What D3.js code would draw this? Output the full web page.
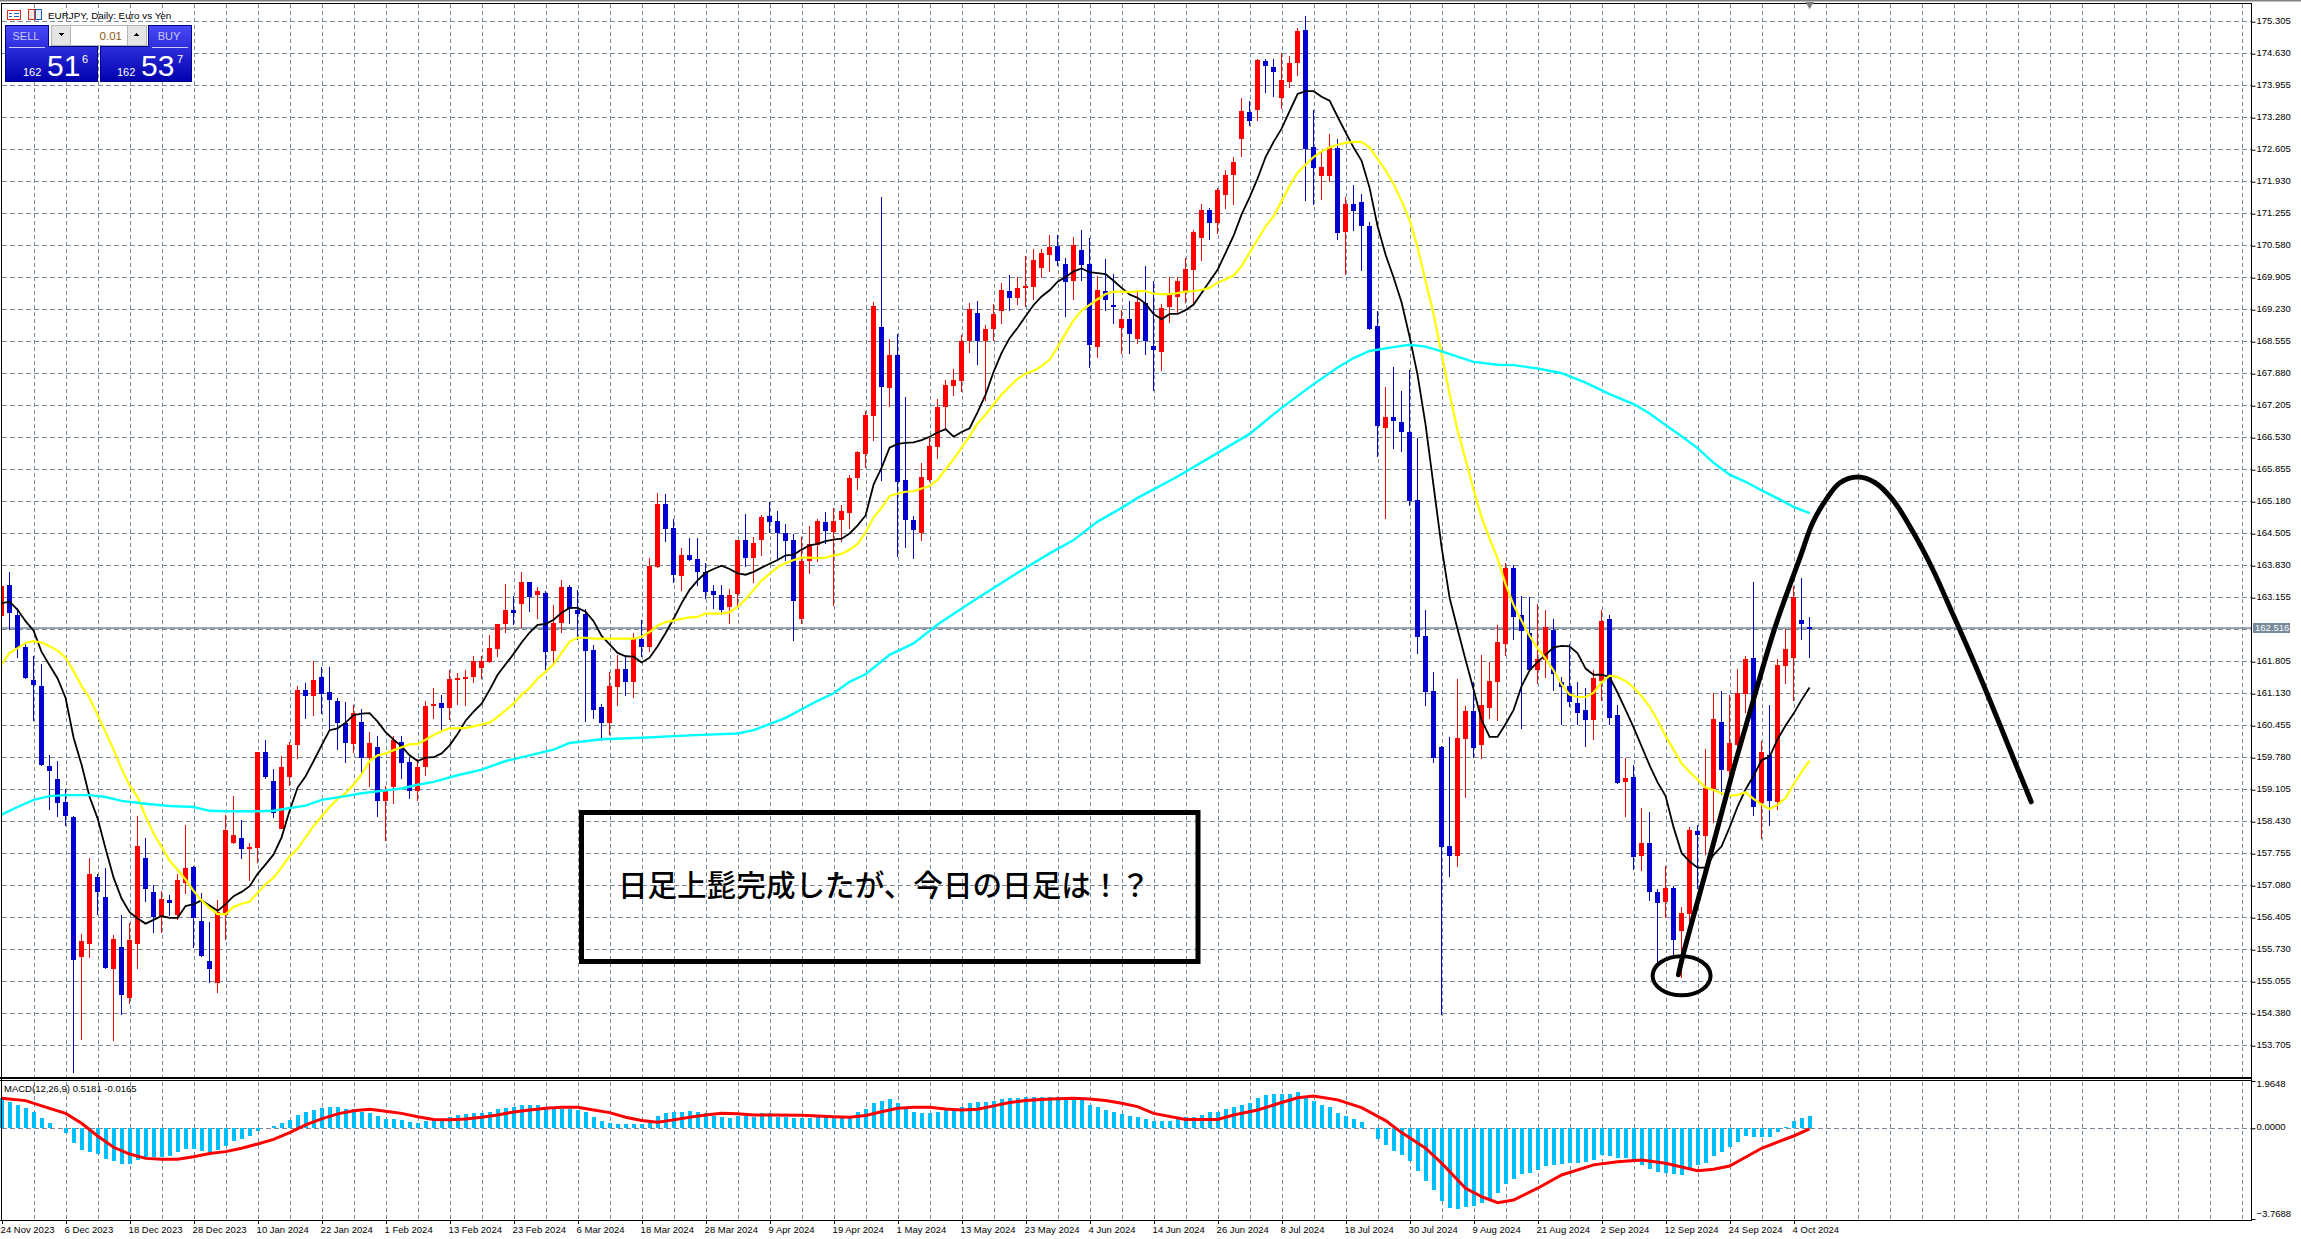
<!DOCTYPE html>
<html>
<head>
<meta charset="utf-8">
<script src="https://cdn.jsdelivr.net/npm/d3@7"></script>
<style>
  html, body { margin: 0; padding: 0; background: #fff; }
  svg { display: block; }
</style>
</head>
<body>
<script>
// EURJPY daily candles, one value per bar (227 bars)
var opens = [
  162.76,163.42,162.79,162.12,161.42,161.30,159.61,159.33,158.85,158.53,
  155.58,155.84,157.27,156.85,155.33,155.79,154.72,155.84,157.67,156.95,
  156.44,156.77,156.46,157.13,157.47,156.34,155.50,155.03,156.46,157.98,
  158.09,157.87,157.88,159.91,159.29,158.28,159.38,160.04,161.21,161.08,
  161.49,161.17,160.98,160.52,160.07,160.54,159.78,160.01,158.87,159.17,
  160.12,159.68,159.07,159.58,160.87,160.94,160.82,161.43,161.45,161.49,
  161.67,161.79,162.08,162.59,162.90,163.03,163.49,163.21,163.26,162.04,
  162.63,163.38,162.90,162.82,162.05,160.84,160.52,161.28,161.65,161.38,
  162.29,162.11,163.80,165.13,164.62,163.62,164.06,163.98,163.69,163.30,
  163.21,162.96,163.24,164.38,163.99,164.38,164.88,164.77,164.51,164.38,
  162.71,163.92,164.26,164.76,164.55,164.80,164.94,165.68,166.19,166.98,
  168.86,167.57,168.27,165.64,164.80,164.51,165.64,166.34,167.18,167.62,
  167.73,168.56,169.16,168.56,168.82,169.21,169.63,169.48,169.69,169.71,
  170.11,170.39,170.57,170.20,169.84,170.49,170.20,168.44,169.62,169.32,
  168.84,169.03,168.61,169.38,168.46,168.33,169.29,169.50,169.58,170.07,
  170.74,171.33,171.05,171.64,172.07,172.84,173.39,173.44,174.47,174.34,
  173.69,174.03,174.43,175.13,172.66,172.04,172.06,172.64,170.87,171.46,
  171.50,170.99,168.88,166.73,166.96,166.86,166.65,165.21,162.35,161.18,
  160.01,157.91,157.71,160.18,160.76,160.05,160.83,161.38,162.17,163.79,
  162.80,162.41,161.64,161.85,162.48,161.38,161.29,160.94,160.79,160.57,
  161.40,162.70,160.68,159.27,159.38,157.70,157.98,156.95,156.74,157.03,
  156.13,156.48,158.23,158.13,159.13,160.53,159.51,160.04,161.13,161.88,
  158.82,159.83,158.84,161.72,161.88,162.69,162.53
];
var highs = [
  163.75,163.70,162.94,162.23,161.93,161.75,159.83,159.70,159.11,158.54,
  156.06,157.66,157.33,157.45,156.04,156.47,156.29,158.55,158.09,157.09,
  156.97,156.89,157.33,158.36,157.49,156.93,156.32,156.77,158.58,158.98,
  158.46,157.98,159.91,160.16,159.55,159.82,160.12,161.29,161.36,161.83,
  161.69,161.69,161.04,160.96,160.90,160.80,160.32,160.24,159.19,160.24,
  160.24,159.79,159.75,160.98,161.25,161.10,161.62,161.57,161.63,161.93,
  161.93,162.36,162.60,163.45,163.20,163.70,163.49,163.38,163.30,163.00,
  163.53,163.42,163.32,162.92,162.15,160.91,161.58,161.95,161.95,162.42,
  162.68,164.00,165.37,165.35,164.81,164.21,164.42,164.42,163.88,163.42,
  163.42,163.34,164.38,164.93,164.43,164.89,165.18,164.99,164.72,164.49,
  164.43,164.67,164.81,164.96,165.05,165.11,165.74,166.24,167.10,169.40,
  171.61,168.61,168.71,167.39,164.88,165.99,166.52,167.34,167.75,167.98,
  168.69,169.37,169.41,168.90,169.36,169.79,169.96,169.92,170.36,170.51,
  170.50,170.81,170.81,170.32,170.76,170.91,170.75,169.94,170.29,169.98,
  169.22,169.42,169.61,170.15,169.83,169.34,169.91,169.91,170.33,170.91,
  171.46,171.38,171.80,172.17,172.45,173.69,173.63,174.52,174.51,174.51,
  174.64,174.59,175.17,175.43,173.44,172.57,172.93,172.83,171.60,171.87,
  171.67,171.09,169.20,167.60,168.02,167.51,167.96,166.53,162.89,161.58,
  160.02,160.22,161.44,160.87,161.38,161.95,161.80,162.57,163.89,163.85,
  163.20,163.18,163.02,162.89,162.70,161.48,162.17,161.38,161.26,161.62,
  162.89,162.78,160.89,159.77,159.62,158.72,158.63,157.01,157.49,157.07,
  156.64,158.31,158.35,159.96,161.15,161.18,161.11,161.65,161.93,163.49,
  160.13,160.89,161.86,162.49,163.40,163.57,162.75
];
var lows = [
  162.70,162.48,161.89,161.45,160.56,159.61,158.68,158.53,158.34,153.12,
  153.83,155.56,156.47,155.33,153.81,154.35,154.58,155.32,156.74,156.08,
  156.08,156.44,156.36,156.91,155.77,155.58,155.03,154.82,155.94,157.96,
  157.65,157.17,157.55,159.34,158.50,158.28,159.19,159.75,160.60,160.66,
  160.70,160.36,159.95,159.66,159.87,159.43,159.17,158.52,158.03,158.81,
  159.33,158.91,158.87,159.39,160.60,160.36,160.58,160.90,160.88,161.35,
  161.45,161.77,161.91,162.40,162.58,162.52,162.86,162.71,161.62,161.71,
  162.42,162.59,162.27,160.54,160.60,160.13,160.25,160.88,161.08,161.04,
  161.91,162.01,163.79,164.34,163.46,163.30,163.92,163.40,163.12,162.92,
  162.78,162.59,162.99,163.80,163.46,164.03,164.51,163.96,163.92,162.25,
  162.60,163.66,163.90,164.29,162.99,164.34,164.61,165.42,165.89,166.47,
  165.62,167.17,164.02,164.21,163.98,164.35,165.60,166.08,166.73,167.41,
  167.50,168.31,168.06,167.31,168.58,168.92,169.20,169.32,169.29,169.44,
  169.90,170.02,170.15,169.07,169.44,169.84,168.00,168.22,169.20,168.92,
  168.29,168.29,168.51,168.27,167.51,167.93,168.95,169.14,169.38,169.38,
  170.25,170.69,170.83,171.36,171.43,172.46,173.11,173.22,173.80,173.72,
  173.47,173.90,174.17,171.52,171.44,171.54,171.92,170.70,169.97,170.88,
  170.04,168.80,166.12,164.82,166.30,166.22,165.09,161.96,160.87,159.67,
  154.36,157.26,157.47,158.93,159.77,159.75,160.60,160.55,161.93,162.26,
  160.39,161.58,161.34,161.46,161.18,160.47,160.84,160.46,160.01,160.16,
  160.98,160.47,159.22,158.53,157.42,157.38,156.76,155.44,156.40,155.55,
  155.13,156.28,157.01,157.73,158.41,159.00,159.38,159.98,160.73,158.55,
  158.07,158.34,158.68,161.34,160.97,162.27,161.88
];
var closes = [
  163.41,162.84,162.10,161.46,161.32,159.63,159.49,158.83,158.54,155.52,
  155.92,157.33,156.95,155.35,155.96,154.78,155.94,157.92,157.02,156.43,
  156.81,156.72,157.21,157.45,156.40,155.60,155.33,156.52,158.26,158.14,
  157.86,157.90,159.91,159.38,158.62,159.59,160.05,161.21,161.08,161.41,
  161.13,161.00,160.52,160.10,160.72,159.78,160.08,158.87,159.09,160.15,
  159.66,159.07,159.59,160.87,160.91,160.83,161.45,161.47,161.49,161.81,
  161.83,162.09,162.59,162.90,162.84,163.49,163.16,163.30,162.02,162.62,
  163.38,162.92,162.82,162.04,160.78,160.52,161.29,161.65,161.38,162.29,
  162.11,163.83,165.13,164.61,163.63,164.05,163.96,163.69,163.28,163.22,
  162.90,163.21,164.38,163.99,164.31,164.86,164.76,164.51,164.35,163.09,
  163.92,164.29,164.77,164.56,164.77,164.99,165.68,166.22,167.01,169.31,
  167.59,168.27,165.60,164.80,164.59,165.70,166.35,167.18,167.65,167.75,
  168.56,169.24,168.56,168.82,169.14,169.65,169.48,169.69,169.72,170.28,
  170.43,170.56,170.26,169.82,170.60,170.17,168.48,169.65,169.43,169.31,
  169.03,168.71,169.39,168.57,168.38,169.26,169.53,169.84,170.08,170.87,
  171.33,171.05,171.75,172.07,172.34,173.42,173.21,174.49,174.37,174.24,
  174.07,174.43,175.10,172.63,172.22,172.24,172.66,170.84,171.47,171.31,
  170.99,168.83,166.78,166.96,166.88,166.65,165.19,162.33,161.16,159.78,
  157.90,157.71,160.20,160.76,159.99,160.89,161.39,162.22,163.79,162.75,
  162.46,161.62,161.87,162.54,161.55,161.27,160.96,160.73,160.57,161.46,
  162.67,160.61,159.24,159.35,157.69,157.98,156.95,156.72,157.03,155.93,
  156.51,158.26,158.15,159.15,160.60,159.52,160.09,161.15,161.86,158.73,
  159.90,158.87,161.74,162.07,163.17,162.60,162.51
];

// moving averages, one value per bar
var maBlack = [
  163.04,163.07,162.90,162.66,162.46,162.01,161.73,161.45,161.04,160.20,
  159.63,158.95,158.50,157.86,157.25,156.81,156.52,156.39,156.28,156.36,
  156.44,156.40,156.40,156.65,156.69,156.77,156.66,156.55,156.69,156.86,
  156.95,157.07,157.33,157.53,157.74,158.10,158.66,159.15,159.39,159.71,
  160.04,160.36,160.40,160.52,160.68,160.71,160.72,160.54,160.32,160.16,
  160.02,159.83,159.71,159.78,159.79,159.87,160.04,160.28,160.56,160.75,
  160.92,161.21,161.53,161.75,161.97,162.21,162.42,162.58,162.60,162.69,
  162.84,162.94,162.94,162.86,162.66,162.35,162.17,161.99,161.92,161.91,
  161.79,161.89,162.13,162.41,162.71,163.04,163.32,163.52,163.68,163.76,
  163.83,163.76,163.67,163.64,163.70,163.79,163.87,163.95,164.05,164.06,
  164.17,164.26,164.29,164.35,164.38,164.40,164.51,164.68,164.89,165.54,
  165.90,166.32,166.40,166.42,166.43,166.48,166.55,166.64,166.71,166.55,
  166.65,166.73,167.07,167.44,167.92,168.32,168.63,168.85,169.09,169.33,
  169.51,169.64,169.82,169.92,170.04,170.10,170.02,170.00,169.98,169.84,
  169.69,169.55,169.48,169.36,169.14,169.03,169.14,169.14,169.22,169.34,
  169.58,169.83,170.07,170.43,170.79,171.24,171.60,172.00,172.45,172.77,
  173.05,173.42,173.78,173.84,173.84,173.72,173.64,173.30,172.97,172.65,
  172.37,171.80,170.99,170.39,169.91,169.38,168.66,167.85,166.80,165.51,
  164.22,163.15,162.49,161.84,161.22,160.57,160.22,160.22,160.49,160.79,
  161.29,161.62,161.80,161.95,162.11,162.14,162.13,161.98,161.66,161.53,
  161.53,161.48,161.15,160.79,160.42,160.02,159.62,159.26,158.97,158.31,
  157.77,157.59,157.46,157.46,157.73,157.91,158.31,158.75,159.11,159.40,
  159.73,159.80,160.17,160.46,160.71,161.00,161.26
];
var maYellow = [
  161.75,161.99,162.09,162.20,162.24,162.21,162.13,162.04,161.89,161.61,
  161.29,161.04,160.68,160.32,159.95,159.55,159.19,158.95,158.54,158.18,
  157.90,157.61,157.41,157.21,156.97,156.77,156.61,156.48,156.48,156.63,
  156.70,156.74,156.93,157.11,157.25,157.47,157.70,157.86,158.10,158.34,
  158.54,158.74,158.91,159.03,159.21,159.43,159.71,159.83,159.87,159.94,
  160.00,160.06,160.07,160.16,160.26,160.34,160.40,160.40,160.41,160.44,
  160.48,160.52,160.64,160.78,160.92,161.11,161.25,161.45,161.59,161.75,
  161.99,162.23,162.31,162.31,162.29,162.29,162.29,162.29,162.29,162.29,
  162.33,162.43,162.57,162.64,162.67,162.71,162.74,162.75,162.82,162.82,
  162.82,162.85,162.96,163.12,163.32,163.52,163.66,163.80,163.88,163.95,
  164.00,164.00,163.99,164.00,164.05,164.08,164.17,164.29,164.53,164.85,
  165.05,165.30,165.35,165.39,165.40,165.46,165.51,165.64,165.86,166.08,
  166.32,166.56,166.83,167.02,167.23,167.44,167.61,167.77,167.88,167.94,
  168.04,168.18,168.44,168.73,169.01,169.21,169.33,169.45,169.56,169.61,
  169.61,169.60,169.62,169.62,169.57,169.56,169.56,169.58,169.61,169.62,
  169.65,169.69,169.80,169.87,169.95,170.15,170.43,170.71,170.99,171.20,
  171.52,171.84,172.12,172.29,172.45,172.57,172.65,172.71,172.75,172.77,
  172.77,172.65,172.41,172.17,171.88,171.52,171.12,170.55,169.83,169.14,
  168.29,167.45,166.68,166.07,165.43,164.85,164.40,163.98,163.44,163.00,
  162.67,162.35,162.09,161.87,161.62,161.33,161.11,161.06,161.06,161.15,
  161.37,161.51,161.48,161.40,161.26,161.08,160.86,160.57,160.24,159.95,
  159.66,159.48,159.32,159.15,159.10,159.03,158.98,158.99,159.05,158.91,
  158.79,158.70,158.79,158.93,159.22,159.48,159.72
];
// slow average, read at the bars listed in maCyanBars
var maCyanBars = [
  0,2,4,6,8,11,13,15,18,21,24,26,28,32,34,36,38,40,43,45,47,50,52,54,57,60,63,66,69,71,
  75,80,86,92,94,98,102,104,106,108,111,114,117,121,124,127,131,134,137,140,142,147,151,
  156,160,164,167,169,171,174,176,178,180,182,184,187,189,192,195,198,201,204,206,208,210,
  212,214,216,218,220,222,224,226
];
var maCyan = [
  158.58,158.74,158.89,158.97,158.99,158.99,158.95,158.87,158.81,158.76,158.74,158.66,158.65,158.65,158.66,
  158.72,158.77,158.89,158.97,159.03,159.07,159.13,159.21,159.27,159.41,159.53,159.71,159.83,159.95,160.09,
  160.17,160.20,160.25,160.29,160.36,160.62,160.98,161.14,161.38,161.54,161.95,162.19,162.59,163.04,163.36,
  163.68,164.09,164.37,164.76,165.05,165.26,165.71,166.11,166.61,167.16,167.66,168.01,168.21,168.36,168.44,
  168.49,168.45,168.35,168.24,168.13,168.07,168.06,167.99,167.89,167.69,167.45,167.24,167.04,166.80,166.56,
  166.31,166.00,165.75,165.60,165.42,165.25,165.07,164.94
];

// MACD panel
var macdHist = [
  1.27,1.11,.97,.86,.69,.44,.24,.01,-.21,-.62,
  -.90,-1.00,-1.08,-1.29,-1.37,-1.48,-1.48,-1.32,-1.18,-1.20,
  -1.18,-1.14,-.97,-.87,-.87,-.93,-.97,-.90,-.72,-.53,
  -.44,-.32,-.11,.01,.11,.21,.35,.55,.66,.76,
  .86,.89,.89,.80,.79,.69,.65,.51,.39,.39,
  .35,.28,.24,.30,.35,.37,.48,.55,.60,.62,
  .62,.69,.79,.86,.90,.96,.97,.97,.90,.83,
  .80,.79,.76,.69,.48,.30,.21,.18,.17,.19,
  .19,.21,.51,.62,.68,.68,.72,.69,.62,.53,
  .47,.43,.51,.51,.48,.62,.62,.48,.46,.43,
  .42,.44,.46,.46,.48,.46,.48,.69,.80,1.07,
  1.14,1.22,1.07,.86,.69,.64,.65,.69,.79,.76,
  .90,1.07,1.09,1.09,1.15,1.20,1.25,1.27,1.29,1.29,
  1.29,1.29,1.29,1.29,1.29,1.18,.97,.87,.76,.69,
  .60,.51,.46,.39,.32,.30,.30,.37,.48,.48,
  .55,.69,.69,.80,.90,.97,1.07,1.27,1.37,1.43,
  1.43,1.43,1.51,1.34,1.15,.97,.90,.65,.51,.39,
  .26,.01,-.46,-.69,-.93,-1.11,-1.36,-1.77,-2.19,-2.56,
  -3.02,-3.32,-3.35,-3.27,-3.21,-3.12,-2.98,-2.70,-2.31,-2.11,
  -1.91,-1.84,-1.73,-1.57,-1.52,-1.48,-1.45,-1.43,-1.39,-1.32,
  -1.11,-1.15,-1.22,-1.22,-1.39,-1.52,-1.70,-1.80,-1.84,-1.91,
  -1.94,-1.66,-1.52,-1.45,-1.15,-.97,-.79,-.55,-.32,-.35,
  -.37,-.35,-.17,.04,.29,.42,.51
];
var signalBars = [
  0,3,5,8,10,12,14,16,18,20,22,24,26,28,30,32,34,36,38,40,42,44,46,48,50,52,54,56,58,60,
  62,64,66,68,70,72,74,76,78,80,82,84,86,88,90,92,94,96,100,102,104,106,108,110,112,114,
  116,118,120,122,124,126,128,130,132,134,136,138,140,142,144,148,152,154,157,160,162,164,
  167,170,173,175,178,180,183,185,187,189,192,195,199,202,205,208,212,214,216,220,224,226
];
var signalLine = [
  1.25,1.15,.93,.62,.21,-.32,-.79,-1.07,-1.25,-1.29,-1.29,-1.18,-1.05,-.97,-.83,-.65,-.46,-.18,.14,.39,
  .60,.73,.79,.71,.62,.48,.37,.35,.39,.46,.55,.68,.76,.83,.87,.87,.76,.65,.46,.32,
  .25,.35,.46,.55,.62,.60,.55,.55,.54,.51,.48,.46,.53,.69,.83,.87,.87,.80,.76,.79,
  .93,1.07,1.15,1.20,1.23,1.25,1.22,1.15,1.04,.90,.62,.37,.37,.55,.76,1.07,1.27,1.34,
  1.18,.86,.32,-.18,-.83,-1.45,-2.49,-2.84,-3.09,-2.98,-2.49,-1.94,-1.52,-1.39,-1.32,-1.45,-1.76,-1.70,-1.57,-.83,-.32,-.02
];

// hand drawn forecast on the chart, bar position and price
var forecastBars = [209.6,210.2,213.5,216.4,219.3,221.7,224.8,226.4,228.2,229.8,232.05,234.2,236.4,238.9,241.4,243.9,246.4,248.9,251.4,253.7];
var forecastPrices = [155.20,155.63,157.67,159.49,161.19,162.54,164.00,164.74,165.26,165.58,165.70,165.58,165.22,164.55,163.75,162.81,161.85,160.84,159.80,158.85];
var circleBar = 210, circlePrice = 155.18;

var priceTicks = [175.305,174.63,173.955,173.28,172.605,171.93,171.255,170.58,169.905,169.23,168.555,167.88,167.205,166.53,165.855,165.18,164.505,163.83,163.155,161.805,161.13,160.455,159.78,159.105,158.43,157.755,157.08,156.405,155.73,155.055,154.38,153.705];
var gridPrices = priceTicks.concat([162.48]);
var macdTicks = [1.9648, 0, -3.7688];
var dateLabels = ['24 Nov 2023','6 Dec 2023','18 Dec 2023','28 Dec 2023','10 Jan 2024','22 Jan 2024','1 Feb 2024','13 Feb 2024','23 Feb 2024','6 Mar 2024','18 Mar 2024','28 Mar 2024','9 Apr 2024','19 Apr 2024','1 May 2024','13 May 2024','23 May 2024','4 Jun 2024','14 Jun 2024','26 Jun 2024','8 Jul 2024','18 Jul 2024','30 Jul 2024','9 Aug 2024','21 Aug 2024','2 Sep 2024','12 Sep 2024','24 Sep 2024','4 Oct 2024'];
var lastPrice = 162.516;

var width = 2301, height = 1239;
var left = 1.5, right = 2251.5;
var gridColor = '#778899', fontUi = '"Liberation Sans", sans-serif';

var x = d3.scaleLinear().domain([0, 1]).range([1.6, 9.6]);
var y = d3.scaleLinear().domain([175.305, 153.705]).range([21.7, 1045.7]);
var yMacd = d3.scaleLinear().domain([1.9648, -3.7688]).range([1081, 1219]);

var svg = d3.select('body').append('svg')
  .attr('width', width)
  .attr('height', height)
  .style('font-family', fontUi);

var defs = svg.append('defs');
defs.append('clipPath').attr('id', 'mainClip').append('rect')
  .attr('x', 2).attr('y', 4).attr('width', right - 2).attr('height', 1074);
var grad = defs.append('linearGradient').attr('id', 'btn').attr('x1', 0).attr('y1', 0).attr('x2', 0).attr('y2', 1);
grad.append('stop').attr('offset', '0%').attr('stop-color', '#4a4af8');
grad.append('stop').attr('offset', '100%').attr('stop-color', '#0000ad');

// grid
var vLines = d3.range(0, 71).map(function(k) { return 1.7 + 32 * k; });
svg.append('g').selectAll('line').data(vLines.slice(1)).enter().append('line')
  .attr('x1', function(d) { return Math.round(d) + 0.5; })
  .attr('x2', function(d) { return Math.round(d) + 0.5; })
  .attr('y1', 4).attr('y2', 1220)
  .attr('stroke', gridColor)
  .attr('stroke-dasharray', '4,3');
svg.append('g').selectAll('line').data(gridPrices).enter().append('line')
  .attr('x1', 2).attr('x2', right)
  .attr('y1', function(d) { return Math.floor(y(d)) + 0.5; })
  .attr('y2', function(d) { return Math.floor(y(d)) + 0.5; })
  .attr('stroke', gridColor)
  .attr('stroke-dasharray', '5,3');
svg.append('line')
  .attr('x1', 2).attr('x2', right)
  .attr('y1', Math.round(yMacd(0)) + 0.5).attr('y2', Math.round(yMacd(0)) + 0.5)
  .attr('stroke', gridColor)
  .attr('stroke-dasharray', '5,3');

// last price line
svg.append('line')
  .attr('x1', 2).attr('x2', right)
  .attr('y1', y(lastPrice)).attr('y2', y(lastPrice))
  .attr('stroke', gridColor)
  .attr('stroke-width', 1.5);

// candles
var bars = d3.range(opens.length);
var candles = svg.append('g').attr('clip-path', 'url(#mainClip)').attr('shape-rendering', 'crispEdges');
function barColor(i) { return closes[i] >= opens[i] ? '#ff0000' : '#0000cd'; }
candles.selectAll('.wick').data(bars).enter().append('rect')
  .attr('class', 'wick')
  .attr('x', function(i) { return x(i) - 0.5; })
  .attr('width', 1)
  .attr('y', function(i) { return y(highs[i]); })
  .attr('height', function(i) { return y(lows[i]) - y(highs[i]); })
  .attr('fill', barColor);
candles.selectAll('.body').data(bars).enter().append('rect')
  .attr('class', 'body')
  .attr('x', function(i) { return x(i) - 2.5; })
  .attr('width', 5)
  .attr('y', function(i) { return y(Math.max(opens[i], closes[i])); })
  .attr('height', function(i) { return Math.max(2, Math.abs(y(opens[i]) - y(closes[i]))); })
  .attr('fill', barColor);

// moving averages
var line = d3.line().x(function(d) { return x(d[0]); }).y(function(d) { return y(d[1]); });
function pairs(xs, ys) { return xs.map(function(v, i) { return [v, ys[i]]; }); }
var maGroup = svg.append('g').attr('clip-path', 'url(#mainClip)').attr('fill', 'none');
maGroup.append('path').attr('d', line(pairs(bars, maBlack))).attr('stroke', '#000').attr('stroke-width', 1.8);
maGroup.append('path').attr('d', line(pairs(bars, maYellow))).attr('stroke', '#ffff00').attr('stroke-width', 2.2);
maGroup.append('path').attr('d', line(pairs(maCyanBars, maCyan))).attr('stroke', '#00ffff').attr('stroke-width', 2.4);

// MACD histogram and signal
svg.append('g').attr('shape-rendering', 'crispEdges').selectAll('rect').data(bars).enter().append('rect')
  .attr('x', function(i) { return x(i) - 2; })
  .attr('width', 4)
  .attr('y', function(i) { return Math.min(yMacd(0), yMacd(macdHist[i])); })
  .attr('height', function(i) { return Math.abs(yMacd(macdHist[i]) - yMacd(0)); })
  .attr('fill', '#00bfff');
var macdLine = d3.line().x(function(d) { return x(d[0]); }).y(function(d) { return yMacd(d[1]); });
svg.append('path')
  .attr('d', macdLine(pairs(signalBars, signalLine)))
  .attr('fill', 'none')
  .attr('stroke', '#ff0000')
  .attr('stroke-width', 3);

// frame
var frame = svg.append('g').attr('stroke', '#000').attr('stroke-width', 1.5).attr('shape-rendering', 'crispEdges');
frame.append('line').attr('x1', 1.5).attr('x2', right).attr('y1', 3.5).attr('y2', 3.5);
frame.append('line').attr('x1', 0).attr('x2', right).attr('y1', 1078).attr('y2', 1078);
frame.append('line').attr('x1', 0).attr('x2', right).attr('y1', 1080.5).attr('y2', 1080.5);
frame.append('line').attr('x1', 0).attr('x2', right).attr('y1', 1220.5).attr('y2', 1220.5);
frame.append('line').attr('x1', left).attr('x2', left).attr('y1', 3).attr('y2', 1221);
frame.append('line').attr('x1', right).attr('x2', right).attr('y1', 3).attr('y2', 1221);
svg.append('rect').attr('x', 0).attr('y', 0).attr('width', width).attr('height', 1.5).attr('fill', '#808080');
svg.append('path')
  .attr('d', d3.symbol().type(d3.symbolTriangle).size(30)())
  .attr('transform', 'translate(' + x(226) + ',4.5) rotate(180)')
  .attr('fill', '#808080');

// right axes
var priceAxis = d3.axisRight(y).tickValues(priceTicks).tickFormat(d3.format('.3f')).tickSize(4).tickPadding(1);
var priceG = svg.append('g').attr('transform', 'translate(' + right + ',0)').call(priceAxis);
priceG.select('.domain').remove();
priceG.selectAll('text').attr('font-size', 9.5).attr('font-family', fontUi).attr('fill', '#000').attr('dy', '0.2em');
var macdAxis = d3.axisRight(yMacd).tickValues(macdTicks).tickFormat(d3.format('.4f')).tickSize(4).tickPadding(1);
var macdG = svg.append('g').attr('transform', 'translate(' + right + ',0)').call(macdAxis);
macdG.select('.domain').remove();
macdG.selectAll('text').attr('font-size', 9.5).attr('font-family', fontUi).attr('fill', '#000').attr('dy', '0.15em');
macdG.selectAll('.tick').filter(function(d) { return d === 1.9648; }).select('text').attr('dy', '0.6em');
macdG.selectAll('.tick').filter(function(d) { return d === -3.7688; }).select('text').attr('dy', '-0.3em');

// last price tag
svg.append('rect')
  .attr('x', 2253).attr('y', y(lastPrice) - 5).attr('width', 37).attr('height', 10)
  .attr('fill', gridColor);
svg.append('text')
  .attr('x', 2255).attr('y', y(lastPrice) + 3.5)
  .attr('font-size', 9.5).attr('fill', '#fff')
  .text(d3.format('.3f')(lastPrice));

// date axis
var dateG = svg.append('g');
dateG.selectAll('line').data(dateLabels).enter().append('line')
  .attr('x1', function(d, i) { return Math.round(x(i * 8)) + 0.5; })
  .attr('x2', function(d, i) { return Math.round(x(i * 8)) + 0.5; })
  .attr('y1', 1221).attr('y2', 1224)
  .attr('stroke', '#000');
dateG.selectAll('text').data(dateLabels).enter().append('text')
  .attr('x', function(d, i) { return x(i * 8) - 1; })
  .attr('y', 1233)
  .attr('font-size', 9.5)
  .attr('fill', '#000')
  .text(function(d) { return d; });

svg.append('text').attr('x', 4).attr('y', 1092).attr('font-size', 9.5).attr('fill', '#000').text('MACD(12,26,9) 0.5181 -0.0165');

// annotations
svg.append('rect')
  .attr('x', 581.5).attr('y', 812.5).attr('width', 616.5).attr('height', 149)
  .attr('fill', '#fff').attr('fill-opacity', 0)
  .attr('stroke', '#000').attr('stroke-width', 5);
svg.append('text')
  .attr('x', 884).attr('y', 896)
  .attr('text-anchor', 'middle')
  .attr('font-family', '"Noto Sans CJK JP", sans-serif')
  .attr('font-size', 29.6)
  .attr('font-weight', 500)
  .attr('fill', '#000')
  .text('日足上髭完成したが、今日の日足は！？');

svg.append('path')
  .attr('d', d3.line().curve(d3.curveCatmullRom)(pairs(forecastBars, forecastPrices).map(function(d) { return [x(d[0]), y(d[1])]; })))
  .attr('fill', 'none')
  .attr('stroke', '#000')
  .attr('stroke-width', 5)
  .attr('stroke-linecap', 'round');
svg.append('ellipse')
  .attr('cx', x(circleBar)).attr('cy', y(circlePrice))
  .attr('rx', 29).attr('ry', 19.5)
  .attr('fill', 'none')
  .attr('stroke', '#000')
  .attr('stroke-width', 4);

// chart title and icons
var icon = svg.append('g').attr('shape-rendering', 'crispEdges').attr('fill', 'none');
icon.append('rect').attr('x', 7.5).attr('y', 10.5).attr('width', 13).attr('height', 9).attr('stroke', '#e03020');
icon.append('path').attr('d', 'M9 13.5h3M14 13.5h5M9 16.5h3M14 16.5h5').attr('stroke', '#2060c0');
icon.append('path').attr('d', 'M28 9.5h6v10h-6z').attr('stroke', '#e03020').attr('fill', '#ffe8e0');
icon.append('path').attr('d', 'M35 9.5h6v10h-6z').attr('stroke', '#2060c0').attr('fill', '#e0f0ff');
svg.append('text').attr('x', 48).attr('y', 18.5).attr('font-size', 9.9).attr('fill', '#000').text('EURJPY, Daily:  Euro vs Yen');

// one click trading panel
var panel = svg.append('g').attr('shape-rendering', 'crispEdges');
function tradeButton(shape) {
  panel.append('path').attr('d', shape).attr('fill', 'url(#btn)').attr('stroke', '#000090');
}
tradeButton('M5.5 25.5h43v21h49v35h-92z');
tradeButton('M148.5 25.5h43v56h-91v-35h48z');
panel.append('rect').attr('x', 51).attr('y', 25.5).attr('width', 95).attr('height', 20).attr('fill', '#fff').attr('stroke', '#b4b4b4');
panel.append('rect').attr('x', 51).attr('y', 25.5).attr('width', 19).attr('height', 20).attr('fill', '#e4e4e4').attr('stroke', '#b4b4b4');
panel.append('rect').attr('x', 127).attr('y', 25.5).attr('width', 19).attr('height', 20).attr('fill', '#e4e4e4').attr('stroke', '#b4b4b4');
panel.append('path').attr('d', 'M58 33h6l-3 3z').attr('fill', '#000');
panel.append('path').attr('d', 'M133 36h6l-3-3z').attr('fill', '#000');
panel.append('path').attr('d', 'M9 47h36M152 47h36').attr('stroke', '#c8c8ff');

function panelText(tx, ty, size, text, fill, anchor) {
  svg.append('text').attr('x', tx).attr('y', ty).attr('font-size', size)
    .attr('fill', fill).attr('text-anchor', anchor || 'start').text(text);
}
panelText(26, 40, 11, 'SELL', '#c8c8ff', 'middle');
panelText(169, 40, 11, 'BUY', '#c8c8ff', 'middle');
panelText(122, 40, 11.5, '0.01', '#8a5a10', 'end');
panelText(23, 76, 11, '162', '#fff');
panelText(47, 76, 30, '51', '#fff');
panelText(82, 63, 11, '6', '#fff');
panelText(117, 76, 11, '162', '#fff');
panelText(141, 76, 30, '53', '#fff');
panelText(177, 63, 11, '7', '#fff');
</script>
</body>
</html>
